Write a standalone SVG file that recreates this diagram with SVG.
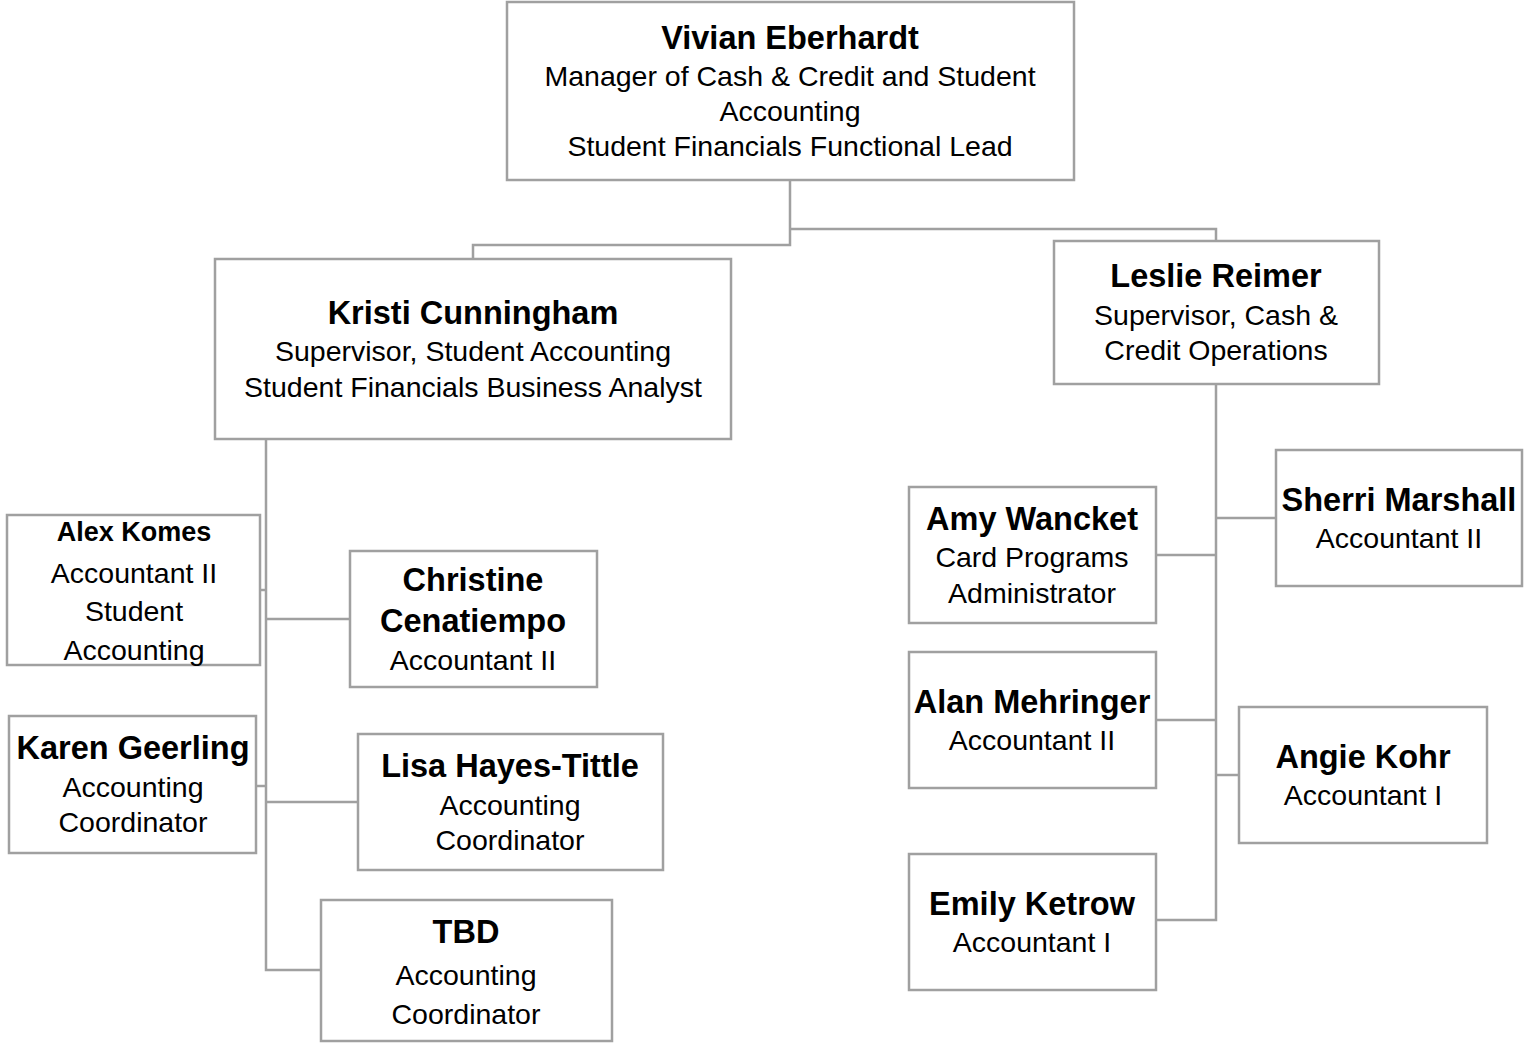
<svg xmlns="http://www.w3.org/2000/svg" width="1524" height="1045" viewBox="0 0 1524 1045">
<style>
.box{fill:#fff;stroke:#a0a0a0;stroke-width:2.5}
.ln{fill:none;stroke:#a0a0a0;stroke-width:2.5}
text{font-family:"Liberation Sans",Arial,sans-serif;fill:#000;text-anchor:middle}
.n{font-weight:bold;font-size:32.5px}
.t{font-size:28.5px}
.s{font-weight:bold;font-size:27px}
</style>
<rect width="1524" height="1045" fill="#fff"/>
<g id="connectors">
<path class="ln" d="M790,180 V245 H473 V259"/>
<path class="ln" d="M790,229 H1216 V241"/>
<path class="ln" d="M266,439 V970 H321"/>
<path class="ln" d="M260,590 H266"/>
<path class="ln" d="M266,619 H350"/>
<path class="ln" d="M256,786 H266"/>
<path class="ln" d="M266,802 H358"/>
<path class="ln" d="M1216,384 V920 H1156"/>
<path class="ln" d="M1216,518 H1276"/>
<path class="ln" d="M1156,555 H1216"/>
<path class="ln" d="M1156,720 H1216"/>
<path class="ln" d="M1216,775 H1239"/>
</g>
<g id="vivian">
<rect class="box" x="507" y="2" width="567" height="178"/>
<text class="n" x="790" y="49">Vivian Eberhardt</text>
<text class="t" x="790" y="86">Manager of Cash &amp; Credit and Student</text>
<text class="t" x="790" y="121">Accounting</text>
<text class="t" x="790" y="156">Student Financials Functional Lead</text>
</g>
<g id="kristi">
<rect class="box" x="215" y="259" width="516" height="180"/>
<text class="n" x="473" y="324">Kristi Cunningham</text>
<text class="t" x="473" y="361">Supervisor, Student Accounting</text>
<text class="t" x="473" y="397">Student Financials Business Analyst</text>
</g>
<g id="leslie">
<rect class="box" x="1054" y="241" width="325" height="143"/>
<text class="n" x="1216" y="287">Leslie Reimer</text>
<text class="t" x="1216" y="325">Supervisor, Cash &amp;</text>
<text class="t" x="1216" y="360">Credit Operations</text>
</g>
<g id="alex">
<rect class="box" x="7" y="515" width="253" height="150"/>
<text class="s" x="134" y="541">Alex Komes</text>
<text class="t" x="134" y="583">Accountant II</text>
<text class="t" x="134" y="621">Student</text>
<text class="t" x="134" y="660">Accounting</text>
</g>
<g id="christine">
<rect class="box" x="350" y="551" width="247" height="136"/>
<text class="n" x="473" y="591">Christine</text>
<text class="n" x="473" y="632">Cenatiempo</text>
<text class="t" x="473" y="670">Accountant II</text>
</g>
<g id="karen">
<rect class="box" x="9" y="716" width="247" height="137"/>
<text class="n" x="133" y="759">Karen Geerling</text>
<text class="t" x="133" y="797">Accounting</text>
<text class="t" x="133" y="832">Coordinator</text>
</g>
<g id="lisa">
<rect class="box" x="358" y="734" width="305" height="136"/>
<text class="n" x="510" y="777">Lisa Hayes-Tittle</text>
<text class="t" x="510" y="815">Accounting</text>
<text class="t" x="510" y="850">Coordinator</text>
</g>
<g id="tbd">
<rect class="box" x="321" y="900" width="291" height="141"/>
<text class="n" x="466" y="943">TBD</text>
<text class="t" x="466" y="985">Accounting</text>
<text class="t" x="466" y="1024">Coordinator</text>
</g>
<g id="amy">
<rect class="box" x="909" y="487" width="247" height="136"/>
<text class="n" x="1032" y="530">Amy Wancket</text>
<text class="t" x="1032" y="567">Card Programs</text>
<text class="t" x="1032" y="603">Administrator</text>
</g>
<g id="sherri">
<rect class="box" x="1276" y="450" width="246" height="136"/>
<text class="n" x="1399" y="511">Sherri Marshall</text>
<text class="t" x="1399" y="548">Accountant II</text>
</g>
<g id="alan">
<rect class="box" x="909" y="652" width="247" height="136"/>
<text class="n" x="1032" y="713">Alan Mehringer</text>
<text class="t" x="1032" y="750">Accountant II</text>
</g>
<g id="angie">
<rect class="box" x="1239" y="707" width="248" height="136"/>
<text class="n" x="1363" y="768">Angie Kohr</text>
<text class="t" x="1363" y="805">Accountant I</text>
</g>
<g id="emily">
<rect class="box" x="909" y="854" width="247" height="136"/>
<text class="n" x="1032" y="915">Emily Ketrow</text>
<text class="t" x="1032" y="952">Accountant I</text>
</g>
</svg>
